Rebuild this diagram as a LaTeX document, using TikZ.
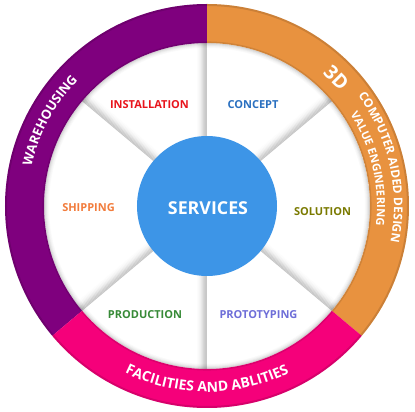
\documentclass[tikz,border=0pt]{standalone}
\usepackage{fontspec}
\setmainfont{Open Sans}
\usetikzlibrary{decorations.text}
\definecolor{ringpurple}{HTML}{7F007E}
\definecolor{ringorange}{HTML}{E8923F}
\definecolor{ringpink}{HTML}{F5007A}
\definecolor{svcblue}{HTML}{3D95E7}
\definecolor{svcdark}{HTML}{2A6FB8}
\definecolor{cinstall}{HTML}{E8141C}
\definecolor{cconcept}{HTML}{2A70C0}
\definecolor{csolution}{HTML}{7A7A00}
\definecolor{cproto}{HTML}{6E6ED8}
\definecolor{cprod}{HTML}{378A37}
\definecolor{cship}{HTML}{F27C3C}
\pgfdeclareradialshading{svcball}{\pgfpoint{0bp}{0bp}}{color(0bp)=(svcblue); color(41bp)=(svcblue); color(47bp)=(svcblue!90!black); color(50bp)=(svcdark)}
\tikzset{
  lbl/.style={font=\fontsize{11}{13}\selectfont\bfseries, inner sep=0pt},
  ringtext/.style={decorate, decoration={text along path, text align=center, text color=white, text={#1}}},
}
\begin{document}
\begin{tikzpicture}[x=1pt,y=1pt]
\useasboundingbox[fill=white] (-207,-206) rectangle (208,206);
% spokes
\begin{scope}
\clip (0,0) circle (163);
\foreach \a/\s in {40/1,90/1,320/1,140/-1,220/-1,270/-1}{
  \begin{scope}[rotate=\a, yscale=\s]
    \foreach \i/\c in {0.5/22,1.5/21,2.5/19,3.5/16,4.5/12,5.5/9,6.5/6,7.5/4,8.5/2.5,9.5/1.2}
      \draw[black!\c, line width=1.05pt] (55,\i) -- (170,\i);
  \end{scope}
}
\foreach \i/\o in {0.5/0.16,1.5/0.11,2.5/0.07,3.5/0.04,4.5/0.02}
  \draw[black, opacity=\o, line width=1pt] (0,0) circle ({163-\i});
\end{scope}
% ring
\fill[ringpurple] (90:202) arc[start angle=90, end angle=220, radius=202] -- (220:163) arc[start angle=220, end angle=90, radius=163] -- cycle;
\fill[ringorange] (-40:202) arc[start angle=-40, end angle=90, radius=202] -- (90:163) arc[start angle=90, end angle=-40, radius=163] -- cycle;
\fill[ringpink] (220:202) arc[start angle=220, end angle=320, radius=202] -- (320:163) arc[start angle=320, end angle=220, radius=163] -- cycle;
\draw[black, opacity=0.12, line width=2pt] (0,0) circle (201);
\draw[black, opacity=0.10, line width=1.5pt] (0,0) circle (163.8);
% ring texts
\path[ringtext={|\fontsize{13}{13}\selectfont\bfseries|WAREHOUSING}] (191.5:180) arc[start angle=191.5, end angle=111.5, radius=180];
\path[ringtext={|\fontsize{14}{14}\selectfont\bfseries|FACILITIES AND ABLITIES}] (220:186) arc[start angle=220, end angle=320, radius=186];
\path[ringtext={|\fontsize{12}{12}\selectfont\bfseries|COMPUTER AIDED DESIGN}] (52.5:187) arc[start angle=52.5, end angle=-27.5, radius=187];
\path[ringtext={|\fontsize{11.2}{12}\selectfont\bfseries|VALUE ENGINEERING}] (53:170) arc[start angle=53, end angle=-27, radius=170];
\node[font=\fontsize{19.5}{20}\selectfont\bfseries, text=white, inner sep=0pt, rotate=-45.2] (threed) at (44.8:182.4) {3D};
% centre
\shade[shading=svcball] (0,0) circle (70);
\node[font=\fontsize{17.8}{19}\selectfont\bfseries, text=white, inner sep=0pt] (svc) at (1,-2.5) {SERVICES};
% labels
\node[lbl, text=cinstall] (install) at (-57.5,101) {INSTALLATION};
\node[lbl, text=cconcept] (concept) at (46,101) {CONCEPT};
\node[lbl, text=csolution] (solution) at (115.5,-6) {SOLUTION};
\node[lbl, text=cship] (ship) at (-118.5,-2) {SHIPPING};
\node[lbl, text=cprod] (prod) at (-62,-109) {PRODUCTION};
\node[lbl, text=cproto] (proto) at (51.5,-109) {PROTOTYPING};
\end{tikzpicture}
\end{document}
